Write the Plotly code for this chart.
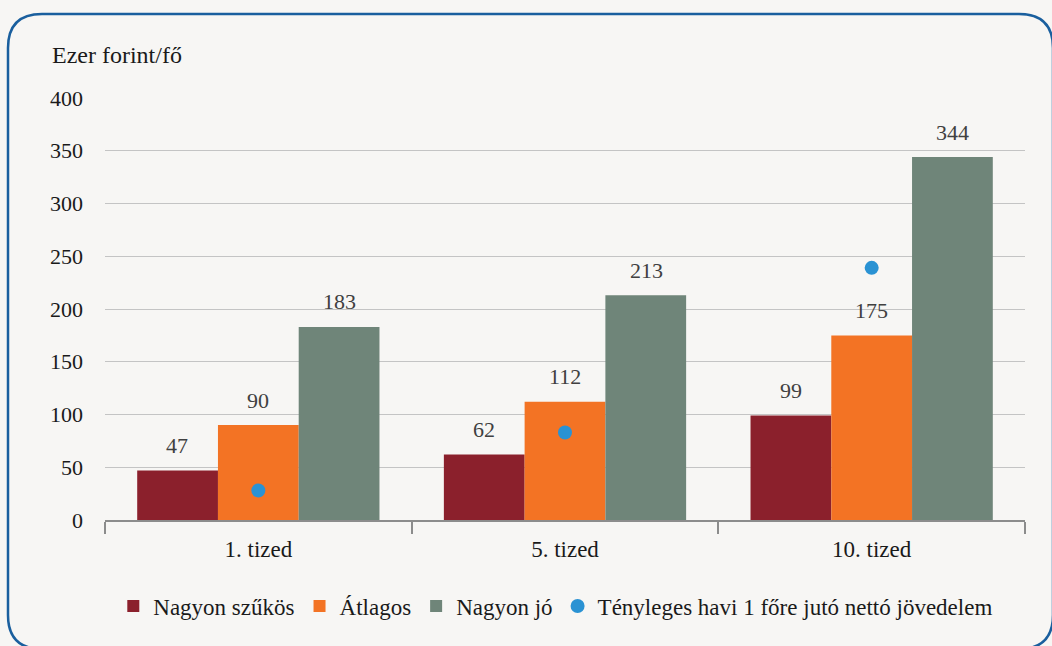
import plotly.graph_objects as go

categories = ["1. tized", "5. tized", "10. tized"]
nagyon_szukos = [47, 62, 99]
atlagos = [90, 112, 175]
nagyon_jo = [183, 213, 344]
tenyleges = [28, 83, 239]

series_names = ["Nagyon szűkös", "Átlagos", "Nagyon jó", "Tényleges havi 1 főre jutó nettó jövedelem"]
colors = ["#8b202c", "#f37324", "#6f8579", "#2a92d3"]

FONT = "Liberation Serif, DejaVu Serif, serif"
TXT = "#1a1a1a"
W, H = 1052, 646
L, R, T, B = 105, 27, 98, 126
PW, PH = W - L - R, H - T - B


def px(x):
    return (x - L) / PW


def py(y):
    return (H - B - y) / PH


fig = go.Figure()
series_vals = [nagyon_szukos, atlagos, nagyon_jo]
for name, vals, col in zip(series_names[:3], series_vals, colors[:3]):
    fig.add_trace(go.Bar(
        x=categories, y=vals, name=name, marker=dict(color=col, line=dict(width=0)),
    ))
fig.add_trace(go.Scatter(
    x=categories, y=tenyleges, name=series_names[3], mode="markers",
    marker=dict(color=colors[3], size=14),
))

# value labels above bars
bar_px = 81
for i, vals in enumerate(series_vals):
    for cat, v in zip(categories, vals):
        fig.add_annotation(x=cat, y=v, text=str(v), showarrow=False,
                           xshift=(i - 1) * bar_px, yshift=25, yanchor="middle",
                           font=dict(family=FONT, size=22, color="#404040"))

# rounded frame
x0, y0, x1, y1, r = 8, 14, 1053, 649, 34
path = (
    f"M {px(x0 + r)},{py(y0)} L {px(x1 - r)},{py(y0)} "
    f"Q {px(x1)},{py(y0)} {px(x1)},{py(y0 + r)} "
    f"L {px(x1)},{py(y1 - r)} Q {px(x1)},{py(y1)} {px(x1 - r)},{py(y1)} "
    f"L {px(x0 + r)},{py(y1)} Q {px(x0)},{py(y1)} {px(x0)},{py(y1 - r)} "
    f"L {px(x0)},{py(y0 + r)} Q {px(x0)},{py(y0)} {px(x0 + r)},{py(y0)} Z"
)
fig.add_shape(type="path", path=path, xref="paper", yref="paper",
              line=dict(color="#1a5f9e", width=2.5), layer="above")

fig.add_annotation(text="Ezer forint/fő", xref="paper", yref="paper",
                   x=px(50), y=py(55), xanchor="left", yanchor="middle",
                   showarrow=False, font=dict(family=FONT, size=24, color=TXT))

fig.update_layout(
    width=W, height=H,
    margin=dict(l=L, r=R, t=T, b=B),
    paper_bgcolor="#f7f6f4", plot_bgcolor="#f7f6f4",
    font=dict(family=FONT, size=22, color=TXT),
    barmode="group", bargap=0.21, bargroupgap=0,
    showlegend=True,
    legend=dict(orientation="h", x=0.49, xanchor="center", y=py(606), yanchor="middle",
                font=dict(family=FONT, size=23, color=TXT),
                bgcolor="rgba(0,0,0,0)", itemwidth=30),
    xaxis=dict(showline=True, linecolor="#8c8c8c", linewidth=1.5,
               ticks="outside", tickson="boundaries", ticklen=12, tickcolor="#8c8c8c", tickwidth=1.5,
               ticklabelstandoff=8,
               showgrid=False, tickfont=dict(family=FONT, size=23, color=TXT)),
    yaxis=dict(range=[0, 400], dtick=50, showgrid=True, gridcolor="#c4c4c4", gridwidth=1,
               zeroline=False, showline=False, ticks="", ticklabelstandoff=21,
               tickfont=dict(family=FONT, size=22, color=TXT)),
)

fig.write_html(
    "out.html",
    config={"displayModeBar": False},
    post_script="document.body.style.margin='0';document.body.style.background='#f7f6f4';",
)
